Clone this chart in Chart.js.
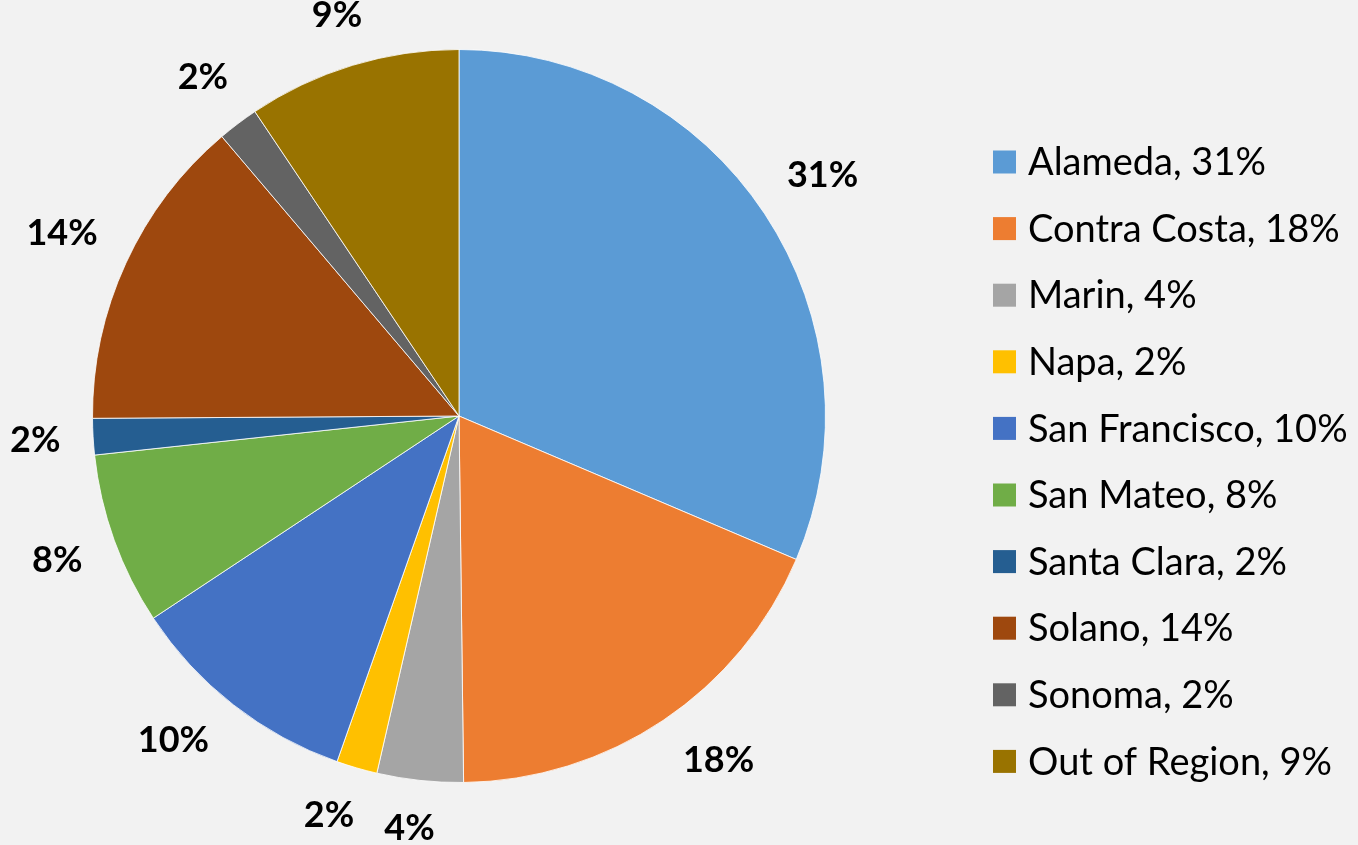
<!DOCTYPE html>
<html lang="en">
<head>
<meta charset="UTF-8">
<title>Pie chart</title>
<style>
  html, body { margin: 0; padding: 0; background: #f2f2f2; }
  #chartContainer { width: 1358px; height: 845px; }
</style>
</head>
<body>
<div id="chartContainer"><canvas id="myChart"></canvas></div>
<script src="https://cdn.jsdelivr.net/npm/chart.js"></script>
<script>
const counties = ['Alameda', 'Contra Costa', 'Marin', 'Napa', 'San Francisco',
  'San Mateo', 'Santa Clara', 'Solano', 'Sonoma', 'Out of Region'];
const shares = [31.4, 18.4, 3.8, 1.8, 10.3, 7.6, 1.6, 13.9, 1.8, 9.4];
const sliceColors = ['#5b9bd5', '#ed7d31', '#a5a5a5', '#ffc000', '#4472c4',
  '#70ad47', '#255e91', '#9e480e', '#636363', '#997300'];

const pctLabel = v => Math.round(v) + '%';

// percentage labels outside each slice
const outsideLabels = {
  id: 'outsideLabels',
  afterDatasetsDraw(chart) {
    const ctx = chart.ctx;
    const meta = chart.getDatasetMeta(0);
    ctx.save();
    ctx.font = 'bold 36px Lato';
    ctx.fillStyle = '#000';
    ctx.textAlign = 'center';
    ctx.textBaseline = 'middle';
    meta.data.forEach((arc, i) => {
      const p = arc.getProps(['x', 'y', 'startAngle', 'endAngle', 'outerRadius'], true);
      let mid = (p.startAngle + p.endAngle) / 2;
      // spread the crowded labels at the bottom a little, like the original
      const s0 = Math.sin(mid);
      if (s0 > 0.5) mid -= Math.cos(mid) * 0.12 * s0;
      const txt = pctLabel(chart.data.datasets[0].data[i]);
      const w = ctx.measureText(txt).width;
      const h = 28;
      const c = Math.cos(mid), s = Math.sin(mid);
      const r = p.outerRadius + 32 + Math.abs(c) * w / 2 + Math.abs(s) * h / 2;
      ctx.fillText(txt, p.x + c * r, p.y + s * r);
    });
    ctx.restore();
  }
};

// legend on the right
const sideLegend = {
  id: 'sideLegend',
  afterDraw(chart) {
    const ctx = chart.ctx;
    const data = chart.data.datasets[0].data;
    const cols = chart.data.datasets[0].backgroundColor;
    ctx.save();
    ctx.font = '38px Lato';
    ctx.textBaseline = 'middle';
    chart.data.labels.forEach((lab, i) => {
      const y = 162 + i * 66.6;
      ctx.fillStyle = cols[i];
      ctx.fillRect(993, y - 11.5, 23, 23);
      ctx.fillStyle = '#000';
      ctx.fillText(lab + ', ' + pctLabel(data[i]), 1028, y + 1);
    });
    ctx.restore();
  }
};

const ctx = document.getElementById('myChart').getContext('2d');
new Chart(ctx, {
  type: 'pie',
  data: {
    labels: counties,
    datasets: [{
      data: shares,
      backgroundColor: sliceColors,
      borderColor: 'rgba(255,255,255,0.8)',
      borderWidth: 1
    }]
  },
  options: {
    responsive: true,
    maintainAspectRatio: false,
    animation: false,
    layout: { padding: { left: 92, top: 49, bottom: 62, right: 532 } },
    plugins: {
      legend: { display: false },
      tooltip: { enabled: false }
    }
  },
  plugins: [outsideLabels, sideLegend]
});
</script>
</body>
</html>
